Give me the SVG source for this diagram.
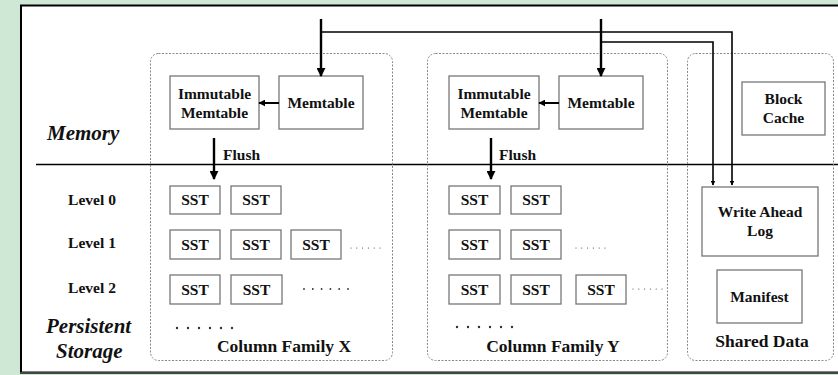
<svg xmlns="http://www.w3.org/2000/svg" width="838" height="375" viewBox="0 0 838 375">
  <defs>
    <marker id="ah" viewBox="0 0 10 10" refX="9" refY="5" markerWidth="5" markerHeight="5" orient="auto" markerUnits="userSpaceOnUse">
      <path d="M0,0 L10,5 L0,10 z" fill="#000"/>
    </marker>
    <marker id="ahs" viewBox="0 0 10 10" refX="9" refY="5" markerWidth="7" markerHeight="7" orient="auto" markerUnits="userSpaceOnUse">
      <path d="M0,0 L10,5 L0,10 z" fill="#000"/>
    </marker>
    <marker id="ahb" viewBox="0 0 10 10" refX="9" refY="5" markerWidth="9" markerHeight="9" orient="auto" markerUnits="userSpaceOnUse">
      <path d="M0,0 L10,5 L0,10 z" fill="#000"/>
    </marker>
  </defs>
  <style>
    text { font-family: "Liberation Serif", "Times New Roman", serif; font-weight: bold; fill: #111; }
    .lbl { font-size: 15.5px; text-anchor: middle; }
    .grpl { font-size: 17.5px; text-anchor: middle; }
    .big { font-size: 21px; font-style: italic; }
    .box { fill: #fff; stroke: #777; stroke-width: 1.3; }
    .grp { fill: none; stroke: #888; stroke-width: 1; stroke-dasharray: 2 1.5; }
    .dots { fill: none; stroke: #333; stroke-linecap: round; }
    .edge { fill: none; stroke: #000; }
  </style>

  <!-- page background and frame -->
  <rect x="0" y="0" width="838" height="375" fill="#cfe8d6"/>
  <rect x="21" y="5.5" width="820" height="367" fill="#fff" stroke="#000" stroke-width="2"/>
  <line x1="20" y1="373" x2="838" y2="373" stroke="#444" stroke-width="2"/>

  <!-- memory / storage divider -->
  <line x1="36" y1="164.5" x2="838" y2="164.5" stroke="#000" stroke-width="1.6"/>

  <!-- side labels -->
  <g id="side-labels">
    <text class="big" x="47" y="140">Memory</text>
    <text class="big" x="46" y="333">Persistent</text>
    <text class="big" x="56" y="358">Storage</text>
    <text class="lbl" x="92" y="205">Level 0</text>
    <text class="lbl" x="92" y="248">Level 1</text>
    <text class="lbl" x="92" y="293">Level 2</text>
  </g>

  <!-- Column Family X -->
  <g id="cf-x">
    <rect class="grp" x="150.5" y="53.5" width="242" height="307" rx="8"/>
    <text class="grpl" x="284" y="352">Column Family X</text>
    <path class="dots" d="M177,328 h56" stroke-width="2.4" stroke-dasharray="0 11"/>
  </g>
  <g id="cfx-immutable">
    <rect class="box" x="170" y="76" width="89" height="53"/>
    <text class="lbl" x="214.5" y="99">Immutable</text>
    <text class="lbl" x="214.5" y="118">Memtable</text>
  </g>
  <g id="cfx-memtable">
    <rect class="box" x="279" y="76" width="84" height="53"/>
    <text class="lbl" x="321" y="108">Memtable</text>
  </g>
  <g id="cfx-l0">
    <rect class="box" x="170" y="186" width="50" height="28"/><text class="lbl" x="195" y="205">SST</text>
    <rect class="box" x="231" y="186" width="50" height="28"/><text class="lbl" x="256" y="205">SST</text>
  </g>
  <g id="cfx-l1">
    <rect class="box" x="170" y="230" width="50" height="29"/><text class="lbl" x="195" y="250">SST</text>
    <rect class="box" x="231" y="230" width="50" height="29"/><text class="lbl" x="256" y="250">SST</text>
    <rect class="box" x="291" y="230" width="50" height="29"/><text class="lbl" x="316" y="250">SST</text>
    <path class="dots" d="M351,248 h30" stroke-width="1.1" stroke-dasharray="0 5.8"/>
  </g>
  <g id="cfx-l2">
    <rect class="box" x="170" y="275" width="50" height="29"/><text class="lbl" x="195" y="295">SST</text>
    <rect class="box" x="231" y="275" width="51" height="29"/><text class="lbl" x="256.5" y="295">SST</text>
    <path class="dots" d="M304,289 h45" stroke-width="1.8" stroke-dasharray="0 8.8"/>
  </g>

  <!-- Column Family Y -->
  <g id="cf-y">
    <rect class="grp" x="427.5" y="53.5" width="240" height="307" rx="8"/>
    <text class="grpl" x="553" y="352">Column Family Y</text>
    <path class="dots" d="M457,327 h56" stroke-width="2.4" stroke-dasharray="0 11"/>
  </g>
  <g id="cfy-immutable">
    <rect class="box" x="449" y="76" width="90" height="53"/>
    <text class="lbl" x="494" y="99">Immutable</text>
    <text class="lbl" x="494" y="118">Memtable</text>
  </g>
  <g id="cfy-memtable">
    <rect class="box" x="559" y="76" width="84" height="53"/>
    <text class="lbl" x="601" y="108">Memtable</text>
  </g>
  <g id="cfy-l0">
    <rect class="box" x="449" y="186" width="51" height="28"/><text class="lbl" x="474.5" y="205">SST</text>
    <rect class="box" x="511" y="186" width="50" height="28"/><text class="lbl" x="536" y="205">SST</text>
  </g>
  <g id="cfy-l1">
    <rect class="box" x="449" y="230" width="51" height="29"/><text class="lbl" x="474.5" y="250">SST</text>
    <rect class="box" x="511" y="230" width="50" height="29"/><text class="lbl" x="536" y="250">SST</text>
    <path class="dots" d="M576,248 h30" stroke-width="1.1" stroke-dasharray="0 5.8"/>
  </g>
  <g id="cfy-l2">
    <rect class="box" x="449" y="275" width="51" height="29"/><text class="lbl" x="474.5" y="295">SST</text>
    <rect class="box" x="511" y="275" width="50" height="29"/><text class="lbl" x="536" y="295">SST</text>
    <rect class="box" x="576" y="275" width="50" height="29"/><text class="lbl" x="601" y="295">SST</text>
    <path class="dots" d="M633,289 h30" stroke-width="1.1" stroke-dasharray="0 5.8"/>
  </g>

  <!-- Shared Data -->
  <g id="shared-data">
    <rect class="grp" x="687.5" y="53.5" width="146" height="307" rx="8"/>
    <text class="grpl" x="762" y="347">Shared Data</text>
  </g>
  <g id="block-cache">
    <rect class="box" x="742" y="82" width="83" height="53"/>
    <text class="lbl" x="783.5" y="104">Block</text>
    <text class="lbl" x="783.5" y="123">Cache</text>
  </g>
  <g id="wal">
    <rect class="box" x="702" y="187" width="116" height="69"/>
    <text class="lbl" x="760" y="217">Write Ahead</text>
    <text class="lbl" x="760" y="236">Log</text>
  </g>
  <g id="manifest">
    <rect class="box" x="717" y="270" width="85" height="53"/>
    <text class="lbl" x="759.5" y="302">Manifest</text>
  </g>

  <!-- connectors -->
  <g id="connectors">
    <!-- writes into active memtables -->
    <line class="edge" x1="321" y1="19" x2="321" y2="76" stroke-width="2.4" marker-end="url(#ahb)"/>
    <line class="edge" x1="601" y1="19" x2="601" y2="76" stroke-width="2.4" marker-end="url(#ahb)"/>
    <!-- memtable to immutable memtable -->
    <line class="edge" x1="279" y1="103" x2="259" y2="103" stroke-width="2" marker-end="url(#ahs)"/>
    <line class="edge" x1="559" y1="103" x2="539" y2="103" stroke-width="2" marker-end="url(#ahs)"/>
    <!-- flush to level 0 -->
    <line class="edge" x1="214" y1="138" x2="214" y2="179" stroke-width="2.4" marker-end="url(#ahb)"/>
    <line class="edge" x1="491" y1="138" x2="491" y2="179" stroke-width="2.4" marker-end="url(#ahb)"/>
    <!-- log writes to WAL -->
    <polyline class="edge" points="321,32 732,32 732,185" stroke-width="1.6" marker-end="url(#ah)"/>
    <polyline class="edge" points="601,42 713,42 713,185" stroke-width="1.6" marker-end="url(#ah)"/>
    <text style="font-size:15.5px" x="223" y="160">Flush</text>
    <text style="font-size:15.5px" x="499" y="160">Flush</text>
  </g>
</svg>
